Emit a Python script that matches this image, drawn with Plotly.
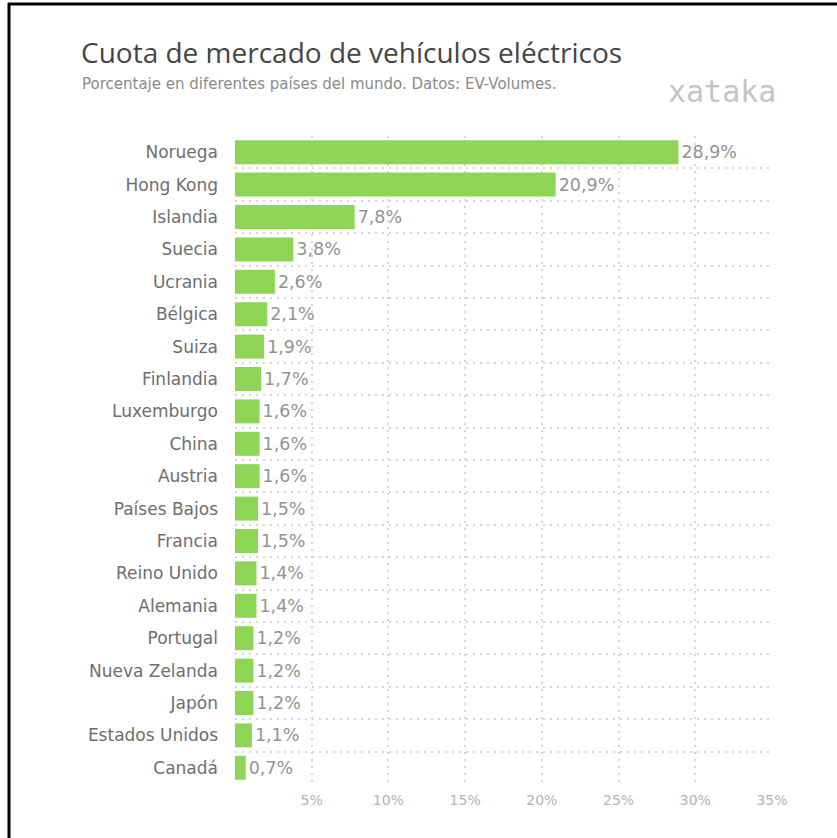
import plotly.graph_objects as go

countries = ["Noruega", "Hong Kong", "Islandia", "Suecia", "Ucrania", "Bélgica", "Suiza",
             "Finlandia", "Luxemburgo", "China", "Austria", "Países Bajos", "Francia",
             "Reino Unido", "Alemania", "Portugal", "Nueva Zelanda", "Japón",
             "Estados Unidos", "Canadá"]
shares = [28.9, 20.9, 7.8, 3.8, 2.6, 2.1, 1.9, 1.7, 1.6, 1.6, 1.6, 1.5, 1.5, 1.4, 1.4,
          1.2, 1.2, 1.2, 1.1, 0.7]
labels = [f"{v:.1f}%".replace(".", ",") for v in shares]
tick_vals = [5, 10, 15, 20, 25, 30, 35]
tick_text = [f"{v}%" for v in tick_vals]

W, H = 837, 838
L, R, T, B = 235, 65, 136, 54
pw, ph = W - L - R, H - T - B

def px(x):
    return (x - L) / pw

def py(y):
    return 1 - (y - T) / ph

FONT = "DejaVu Sans, sans-serif"
TFONT = "Open Sans, sans-serif"
GRID = "#d6d6d6"

fig = go.Figure(go.Bar(
    x=shares, y=countries, orientation="h",
    marker=dict(color="#8dd655", line=dict(width=0)),
    text=labels, textposition="outside", cliponaxis=False,
    textfont=dict(size=17.5, color="#939393", family=FONT),
))

fig.update_layout(
    width=W, height=H,
    margin=dict(l=L, r=R, t=T, b=B),
    paper_bgcolor="white", plot_bgcolor="white",
    bargap=0.26, showlegend=False,
    font=dict(family=FONT),
    xaxis=dict(range=[0, 35], tickvals=tick_vals, ticktext=tick_text,
               showgrid=True, gridcolor=GRID, griddash="2px,5px", gridwidth=2,
               zeroline=False, showline=False, ticks="",
               tickfont=dict(size=14, color="#b3b3b3"), ticklabelstandoff=6),
    yaxis=dict(autorange="reversed", type="category", tickson="boundaries",
               showgrid=True, gridcolor=GRID, griddash="2px,5px", gridwidth=2,
               zeroline=False, showline=False, ticks="",
               tickfont=dict(size=17, color="#6e6e6e"), ticklabelstandoff=16),
)

annotations = [
    dict(text="Cuota de mercado de vehículos eléctricos", x=px(79), y=py(52),
         xanchor="left", yanchor="middle", showarrow=False,
         font=dict(size=28, color="#454545", family=TFONT, weight=500)),
    dict(text="Porcentaje en diferentes países del mundo. Datos: EV-Volumes.", x=px(80), y=py(84),
         xanchor="left", yanchor="middle", showarrow=False,
         font=dict(size=15, color="#8a8a8a", family=FONT)),
    dict(text="xataka", x=px(722), y=py(91),
         xanchor="center", yanchor="middle", showarrow=False,
         font=dict(size=30, color="#c4c4c4", family="DejaVu Sans Mono")),
]
for a in annotations:
    a["xref"] = "paper"
    a["yref"] = "paper"
fig.update_layout(annotations=annotations)

fig.update_layout(shapes=[
    dict(type="line", xref="paper", yref="paper", x0=px(8), x1=px(W + 5), y0=py(4), y1=py(4),
         line=dict(color="black", width=3)),
    dict(type="line", xref="paper", yref="paper", x0=px(9), x1=px(9), y0=py(3), y1=py(H + 5),
         line=dict(color="black", width=3)),
])

fig.write_html("out.html")
